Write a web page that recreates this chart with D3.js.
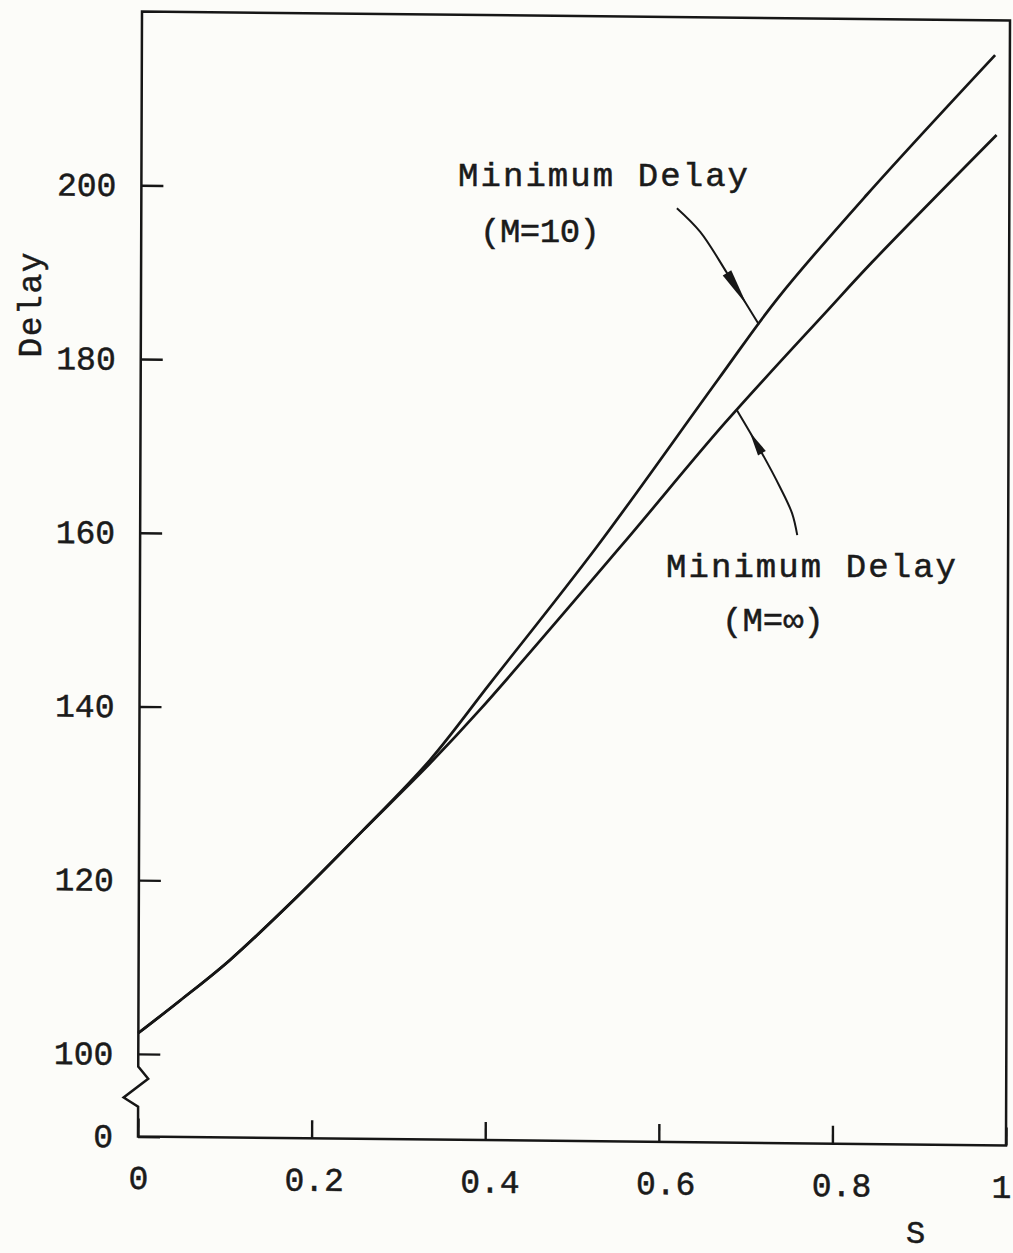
<!DOCTYPE html>
<html>
<head>
<meta charset="utf-8">
<script src="https://cdn.jsdelivr.net/npm/d3@7"></script>
<style>
  body { margin: 0; background: #fcfcf9; }
  svg { display: block; }
  text { font-family: "Liberation Mono", "DejaVu Sans Mono", monospace; fill: #1b1b1b; }
</style>
</head>
<body>
<script>
// values (S vs delay)
var sM10 = [0, 0.048, 0.105, 0.182, 0.258, 0.335, 0.404, 0.526, 0.665, 0.734, 0.836, 0.983];
var delayM10 = [102.4, 106.2, 110.9, 118.25, 126.0, 134.2, 143.1, 158.9, 178.3, 187.8, 199.8, 216.0];

var sMinf = [0, 0.048, 0.105, 0.182, 0.258, 0.335, 0.392, 0.553, 0.673, 0.79, 0.842, 0.985];
var delayMinf = [102.4, 106.2, 110.9, 118.25, 126.0, 133.8, 140.0, 158.9, 173.3, 186.3, 192.0, 206.8];

var xTicks = [0, 0.2, 0.4, 0.6, 0.8, 1];
var yTicks = [0, 100, 120, 140, 160, 180, 200];

// leader lines of the two labels, in (S, delay)
var leaderM10 = [[0.617, 198.0], [0.644, 195.3], [0.675, 190.6], [0.712, 184.7]];
var leaderMinf = [[0.757, 160.5], [0.751, 163.0], [0.737, 166.0], [0.716, 169.9], [0.687, 174.8]];

var W = 1013, H = 1253,
    pw = 868, ph = 1125,
    ink = "#161616";

var svg = d3.select("body").append("svg")
    .attr("width", W)
    .attr("height", H);

svg.append("rect").attr("width", W).attr("height", H).attr("fill", "#fcfcf9");

/* the scanned sheet is a bit skewed, so the plot lives in a skewed group */
var g = svg.append("g")
    .attr("transform", "matrix(1,0.01037,-0.00356,1,142,11.5)");

var x = d3.scaleLinear().domain([0, 1]).range([0, pw]);
/* broken axis: 0..100 is squeezed into the gap under the 100 tick */
var y = d3.scaleLinear().domain([0, 100, 220]).range([ph, 1042.4, 0]);

/* axes, ticks pointing inwards */
var yAxis = d3.axisLeft(y)
    .tickValues(yTicks)
    .tickSize(-22)
    .tickSizeOuter(0)
    .tickPadding(25)
    .tickFormat(d3.format("d"));

var xAxis = d3.axisBottom(x)
    .tickValues(xTicks)
    .tickSize(-18)
    .tickSizeOuter(0)
    .tickPadding(29)
    .tickFormat(function(d) { return String(d); });

function styleAxis(sel) {
    sel.select(".domain").remove();
    sel.attr("font-size", 33).attr("font-family", null);
    sel.selectAll("line").attr("stroke", ink).attr("stroke-width", 2.4);
    sel.selectAll("text")
        .attr("fill", ink)
        .attr("stroke", ink)
        .attr("stroke-width", 0.5);
}

g.append("g").call(yAxis).call(styleAxis);
g.append("g")
    .attr("transform", "translate(0," + ph + ")")
    .call(xAxis)
    .call(styleAxis)
    .selectAll("text")
    /* typed labels sit a little right of their ticks; the last one is at the sheet edge */
    .attr("dx", function(d) { return d === 1 ? -5 : d * 11; });

/* frame with the zigzag break below 100 */
var y100 = y(100), gap = y(0) - y(100);
var frame = d3.path();
frame.moveTo(0, y100 + gap * 0.154);
frame.lineTo(0, 0);
frame.lineTo(pw, 0);
frame.lineTo(pw, ph);
frame.lineTo(0, ph);
frame.lineTo(0, y100 + gap * 0.638);
frame.lineTo(-14.5, y100 + gap * 0.529);
frame.lineTo(10, y100 + gap * 0.299);
frame.closePath();

g.append("path")
    .attr("d", frame.toString())
    .attr("fill", "none")
    .attr("stroke", ink)
    .attr("stroke-width", 2.5)
    .attr("stroke-linejoin", "miter");

/* the two curves */
var line = d3.line()
    .x(function(d) { return x(d[0]); })
    .y(function(d) { return y(d[1]); })
    .curve(d3.curveCatmullRom.alpha(0.5));

[d3.zip(sM10, delayM10), d3.zip(sMinf, delayMinf)].forEach(function(pts) {
    g.append("path")
        .datum(pts)
        .attr("d", line)
        .attr("fill", "none")
        .attr("stroke", ink)
        .attr("stroke-width", 2.7);
});

/* leader lines with their hand drawn wedge heads */
var leader = d3.line()
    .x(function(d) { return x(d[0]); })
    .y(function(d) { return y(d[1]); })
    .curve(d3.curveCatmullRom);

function wedge(base, toward, len, hw) {
    var bx = x(base[0]), by = y(base[1]),
        tx = x(toward[0]), ty = y(toward[1]),
        dx = tx - bx, dy = ty - by,
        n = Math.sqrt(dx * dx + dy * dy);
    dx /= n; dy /= n;
    return "M" + (bx - dy * hw) + "," + (by + dx * hw) +
        "L" + (bx + dx * len) + "," + (by + dy * len) +
        "L" + (bx + dy * hw) + "," + (by - dx * hw) + "Z";
}

[leaderM10, leaderMinf].forEach(function(pts) {
    g.append("path")
        .datum(pts)
        .attr("d", leader)
        .attr("fill", "none")
        .attr("stroke", ink)
        .attr("stroke-width", 2);
});

g.append("path")
    .attr("d", wedge(leaderM10[2], leaderM10[3], 38, 5))
    .attr("fill", ink);
g.append("path")
    .attr("d", wedge(leaderMinf[3], leaderMinf[4], 24, 4.5))
    .attr("fill", ink);

/* labels */
function label(txt, px, py, len) {
    return svg.append("text")
        .attr("x", px)
        .attr("y", py)
        .attr("font-size", 34)
        .attr("textLength", len)
        .attr("lengthAdjust", "spacing")
        .attr("stroke", ink)
        .attr("stroke-width", 0.5)
        .text(txt);
}

label("Minimum Delay", 458, 186, 290);
label("(M=10)", 480, 242, 120);
label("Minimum Delay", 666, 577, 290);
label("(M=\u221e)", 722, 631, 102);

svg.append("text")
    .attr("transform", "translate(41,305) rotate(-90)")
    .attr("text-anchor", "middle")
    .attr("font-size", 33)
    .attr("textLength", 105)
    .attr("stroke", ink)
    .attr("stroke-width", 0.5)
    .text("Delay");

svg.append("text")
    .attr("x", 906)
    .attr("y", 1243)
    .attr("font-size", 32)
    .attr("stroke", ink)
    .attr("stroke-width", 0.5)
    .text("S");
</script>
</body>
</html>
